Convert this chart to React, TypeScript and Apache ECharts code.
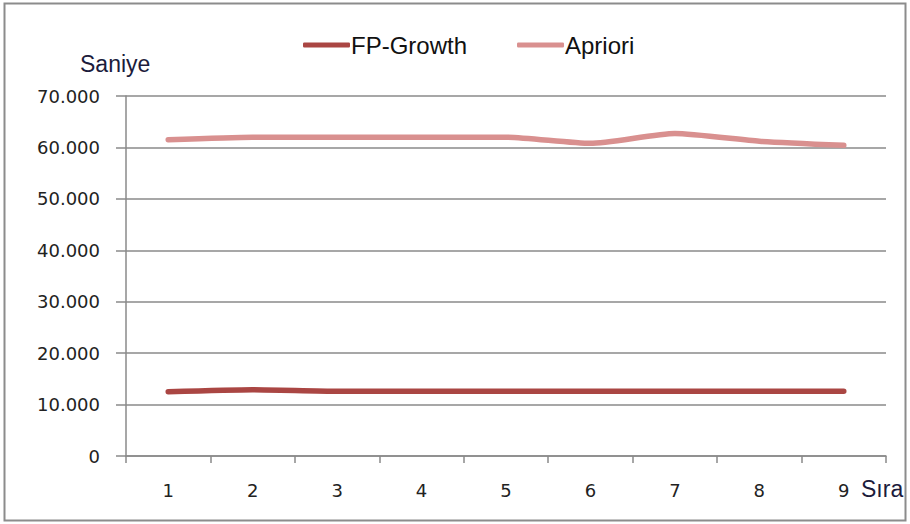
import React, { useEffect, useRef } from "react";
import * as echarts from "echarts";

// Run order (Sıra) and running time in seconds (Saniye) for each algorithm
const categories = ["1", "2", "3", "4", "5", "6", "7", "8", "9"];
const fpGrowth = [12500, 12900, 12600, 12600, 12600, 12600, 12600, 12600, 12600];
const apriori = [61500, 62000, 62000, 62000, 62000, 60800, 62700, 61200, 60400];
const yTicks = { min: 0, max: 70000, interval: 10000 };

// Turkish thousands separator: 10000 -> "10.000"
const fmt = (v: number) => {
  if (v === 0) return "0";
  const s = Math.round(v).toString();
  return s.replace(/\B(?=(\d{3})+(?!\d))/g, ".");
};

const TICK_FONT = "'DejaVu Sans', Verdana, sans-serif";
const TEXT_FONT = "'Liberation Sans', Arial, sans-serif";

export default function App() {
  const ref = useRef<HTMLDivElement>(null);

  useEffect(() => {
    if (!ref.current) return;
    const chart = echarts.init(ref.current, null, { renderer: "svg" });
    chart.setOption({
      animation: false,
      backgroundColor: "#ffffff",
      grid: { left: 126, right: 24, top: 96, bottom: 68, containLabel: false },
      legend: {
        top: 28,
        left: 298,
        itemWidth: 47,
        itemHeight: 5,
        itemGap: 50,
        icon: "roundRect",
        textStyle: { fontFamily: TEXT_FONT, fontSize: 24, color: "#111", padding: [0, 0, 0, -4] },
        data: ["FP-Growth", "Apriori"],
      },
      xAxis: {
        type: "category",
        data: categories,
        boundaryGap: true,
        axisLine: { lineStyle: { color: "#8a8a8a", width: 1.5 } },
        axisTick: { show: true, length: 7, alignWithLabel: false, lineStyle: { color: "#8a8a8a", width: 1.5 } },
        axisLabel: { fontFamily: TICK_FONT, fontSize: 18, color: "#222", margin: 25 },
        splitLine: { show: false },
      },
      yAxis: {
        type: "value",
        min: yTicks.min,
        max: yTicks.max,
        interval: yTicks.interval,
        axisLine: { show: true, lineStyle: { color: "#8a8a8a", width: 1.5 } },
        axisTick: { show: true, length: 10, lineStyle: { color: "#8a8a8a", width: 1.5 } },
        axisLabel: { fontFamily: TICK_FONT, fontSize: 18, color: "#222", margin: 26, formatter: fmt },
        splitLine: { show: true, lineStyle: { color: "#8a8a8a", width: 1.5 } },
      },
      series: [
        {
          name: "FP-Growth",
          type: "line",
          data: fpGrowth,
          smooth: 0.2,
          showSymbol: false,
          symbol: "none",
          color: "#AA4643",
          lineStyle: { width: 5.5, color: "#AA4643", cap: "round" },
        },
        {
          name: "Apriori",
          type: "line",
          data: apriori,
          smooth: 0.2,
          showSymbol: false,
          symbol: "none",
          color: "#D9908F",
          lineStyle: { width: 5.5, color: "#D9908F", cap: "round" },
        },
      ],
      graphic: [
        {
          type: "rect",
          shape: { x: 4.5, y: 3.5, width: 901, height: 517 },
          style: { fill: "none", stroke: "#8c8c8c", lineWidth: 2 },
          silent: true,
        },
        {
          type: "text",
          left: 80,
          top: 52,
          style: { text: "Saniye", fontFamily: TEXT_FONT, fontSize: 23, fill: "#1c1c3c" },
        },
        {
          type: "text",
          left: 861,
          top: 477,
          style: { text: "Sıra", fontFamily: TEXT_FONT, fontSize: 23, fill: "#1c1c3c" },
        },
      ],
    });
    return () => chart.dispose();
  }, []);

  return (
    <div
      ref={ref}
      style={{ position: "fixed", left: 0, top: 0, width: 910, height: 524 }}
    />
  );
}
